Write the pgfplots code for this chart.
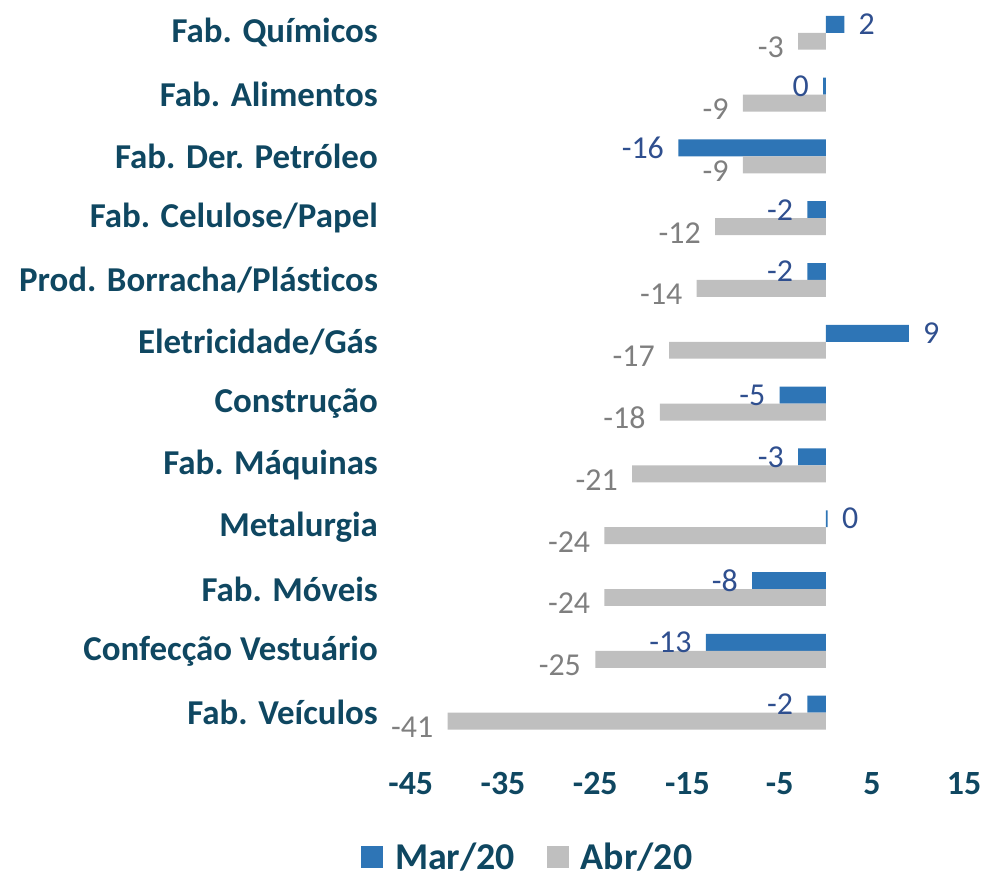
\documentclass[border=0pt]{standalone}
\usepackage{fontspec}
\setmainfont{Carlito}[Ligatures={NoCommon,NoRare}]
\usepackage{pgfplots}
\usepackage{pgfplotstable}
\pgfplotsset{compat=1.18}

\definecolor{mar}{HTML}{2E75B6}
\definecolor{abr}{HTML}{BFBFBF}
\definecolor{txt}{HTML}{0F4761}
\definecolor{marlbl}{HTML}{2F4F8F}
\definecolor{abrlbl}{HTML}{7F7F7F}

% idx 11 = top row
\pgfplotstableread{
idx mar  marl abr abrl
11  2    2    -3  -3
10  -0.3 0    -9  -9
9   -16  -16  -9  -9
8   -2   -2   -12 -12
7   -2   -2   -14 -14
6   9    9    -17 -17
5   -5   -5   -18 -18
4   -3   -3   -21 -21
3   0.2  0    -24 -24
2   -8   -8   -24 -24
1   -13  -13  -25 -25
0   -2   -2   -41 -41
}\data

% label left of negative bars, right of positive ones
\tikzset{signanchor/.code={\ifdim\xv pt<0pt \pgfkeysalso{anchor=east}\else\pgfkeysalso{anchor=west}\fi}}

\begin{document}
\begin{tikzpicture}
\begin{axis}[
    scale only axis,
    width=277.5pt, height=375pt,
    xbar, bar width=8.5pt,
    xmin=-45, xmax=15,
    ymin=-0.6, ymax=11.5,
    xtick={-45,-35,-25,-15,-5,5,15},
    xticklabels={-45,-35,-25,-15,-5,5,15},
    ytick={0,...,11},
    yticklabels={Fab. Veículos,Confecção Vestuário,Fab. Móveis,Metalurgia,Fab. Máquinas,Construção,Eletricidade/Gás,Prod. Borracha/Plásticos,Fab. Celulose/Papel,Fab. Der. Petróleo,Fab. Alimentos,Fab. Químicos},
    axis line style={draw=none},
    major tick length=0pt,
    tick style={draw=none},
    xticklabel style={font=\fontsize{17}{17}\selectfont\bfseries, text=txt, yshift=-8pt},
    yticklabel style={font=\fontsize{17.5}{17.5}\selectfont\bfseries, text=txt, xshift=-13pt},
    nodes near coords,
    point meta=explicit symbolic,
    legend style={draw=none, at={(0.213,-0.144)}, anchor=center,
        legend columns=2, font=\fontsize{19}{19}\selectfont\bfseries, text=txt,
        /tikz/every odd column/.append style={column sep=4pt},
        /tikz/every even column/.append style={column sep=14pt}},
    legend image code/.code={\fill[#1] (0pt,-5.5pt) rectangle (11pt,5.5pt);},
]
\addplot[fill=mar, draw=none, bar shift=4.25pt,
    visualization depends on={\thisrow{mar} \as \xv},
    nodes near coords style={font=\fontsize{16}{16}\selectfont, text=marlbl, inner sep=7pt, signanchor}]
    table[x=mar, y=idx, meta=marl] {\data};
\addlegendentry{Mar/20}
\addplot[fill=abr, draw=none, bar shift=-4.25pt,
    visualization depends on={\thisrow{abr} \as \xv},
    nodes near coords style={font=\fontsize{16}{16}\selectfont, text=abrlbl, inner sep=7pt, yshift=-3pt, signanchor}]
    table[x=abr, y=idx, meta=abrl] {\data};
\addlegendentry{Abr/20}
\end{axis}
\path ([xshift=-206pt,yshift=-63pt]current axis.south west) rectangle ([xshift=10.5pt,yshift=0.5pt]current axis.north east);
\end{tikzpicture}
\end{document}
